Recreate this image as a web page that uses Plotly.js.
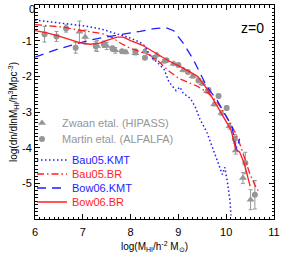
<!DOCTYPE html>
<html><head><meta charset="utf-8">
<script src="https://cdn.plot.ly/plotly-3.0.1.min.js"></script>
<style>html,body{margin:0;padding:0;background:#fff;}#chart{width:287px;height:257px;}</style>
</head><body><div id="chart"></div>
<script>
// Bau05.KMT (blue dotted)
const bau05KmtX = [6.0,6.4,6.8,7.1,7.4,7.7,8.0,8.2,8.3,8.4,8.55,8.7,8.8,8.95,9.03,9.1,9.25,9.35,9.45,9.6,9.7,9.8,9.87,9.92,9.97,10.03,10.08,10.1];
const bau05KmtY = [-0.42,-0.48,-0.54,-0.6,-0.68,-0.8,-0.93,-1.05,-1.15,-1.4,-1.6,-1.8,-2.15,-2.4,-2.3,-2.47,-2.62,-2.85,-3.2,-3.58,-3.95,-4.3,-4.6,-4.75,-4.55,-5.0,-5.5,-5.9];
// Bau05.BR (red dash-dot)
const bau05BrX = [6.0,6.3,6.6,6.9,7.2,7.4,7.6,7.8,8.0,8.2,8.4,8.6,8.8,9.0,9.2,9.4,9.6,9.8,9.95,10.1,10.2,10.3,10.4,10.5,10.6,10.7];
const bau05BrY = [-0.55,-0.58,-0.62,-0.7,-0.75,-0.8,-0.9,-1.08,-1.22,-1.3,-1.4,-1.6,-1.85,-2.05,-2.16,-2.28,-2.45,-2.7,-3.0,-3.35,-3.6,-3.95,-4.35,-4.75,-5.05,-5.28];
// Bow06.KMT (blue dashed)
const bow06KmtX = [6.0,6.2,6.4,6.7,7.0,7.2,7.4,7.65,7.9,8.2,8.5,8.75,8.9,9.1,9.3,9.45,9.6,9.8,10.0,10.12,10.18,10.22,10.28];
const bow06KmtY = [-1.46,-1.36,-1.27,-1.15,-1.03,-0.97,-0.92,-0.87,-0.82,-0.74,-0.66,-0.64,-0.72,-1.07,-1.5,-1.9,-2.3,-2.65,-3.1,-3.4,-3.85,-4.05,-3.75];
// Bow06.BR (red solid)
const bow06BrX = [6.0,6.25,6.5,6.75,6.95,7.15,7.35,7.55,7.72,7.85,8.0,8.25,8.55,8.8,9.1,9.4,9.6,9.77,9.94,10.1,10.2,10.28,10.38,10.5];
const bow06BrY = [-0.72,-0.78,-0.87,-0.97,-1.06,-1.1,-1.07,-0.97,-0.9,-0.9,-1.0,-1.13,-1.38,-1.57,-1.77,-2.0,-2.35,-2.75,-3.12,-3.5,-4.05,-4.12,-4.45,-5.08];
// Zwaan etal. (HIPASS)
const zwaanX = [6.93,7.05,7.3,7.5,7.68,7.9,8.1,8.3,8.55,8.7,8.9,9.1,9.3,9.5,9.6,9.75,9.9,10.07,10.2,10.35,10.51];
const zwaanY = [-0.75,-0.9,-1.15,-1.15,-1.27,-1.32,-1.35,-1.3,-1.4,-1.58,-1.65,-1.82,-2.0,-2.2,-2.42,-2.78,-3.03,-3.4,-4.08,-4.85,-5.46];
const zwaanErr = [0.3,0.2,0.15,0.1,0.08,0.05,0.05,0.05,0.05,0.05,0.05,0.05,0.05,0.05,0.05,0.05,0.06,0.08,0.1,0.15,0.28];
// Martin etal. (ALFALFA)
const martinX = [6.2,6.45,6.65,6.85,7.27,7.44,7.62,7.82,8.1,8.3,8.5,8.75,9.0,9.2,9.42,9.63,9.84,10.01,10.18,10.4,10.6];
const martinY = [-0.82,-0.88,-0.66,-1.2,-1.16,-1.1,-1.22,-1.3,-1.3,-1.48,-1.48,-1.55,-1.68,-1.88,-2.12,-2.38,-2.55,-2.89,-3.75,-4.43,-5.32];
const martinErr = [0.22,0.14,0.1,0.15,0.13,0.09,0.07,0.05,0.04,0.04,0.04,0.04,0.04,0.04,0.04,0.05,0.05,0.06,0.12,0.3,0.4];
// y tick labels (the top "0" label is drawn as text at the axis corner, x = 6, y = 0)
const yTickVals = [-1,-2,-3,-4,-5];
const yTickText = ['-1','-2','-3','-4','-5'];
const yTopX = 6, yTopVal = 0, yTopText = '0';

const names = ['Zwaan etal. (HIPASS)','Martin etal. (ALFALFA)','Bau05.KMT','Bau05.BR','Bow06.KMT','Bow06.BR'];
const GRAY = 'rgb(150,150,150)', BLUE = 'rgb(30,30,255)', RED = 'rgb(255,30,30)';
const col = (c, t) => '<span style="color:' + c + '">' + t + '</span>';
const FONT = 'Liberation Sans, Arial, sans-serif';

const traces = [
  {x: zwaanX, y: zwaanY, type:'scatter', mode:'markers', name: col(GRAY, names[0]), legend:'legend',
   marker:{symbol:'triangle-up', size:7, color:GRAY},
   error_y:{type:'data', array: zwaanErr, color:GRAY, thickness:1, width:2}},
  {x: martinX, y: martinY, type:'scatter', mode:'markers', name: col(GRAY, names[1]), legend:'legend2',
   marker:{symbol:'circle', size:6, color:GRAY},
   error_y:{type:'data', array: martinErr, color:GRAY, thickness:1, width:2}},
  {x: bau05KmtX, y: bau05KmtY, type:'scatter', mode:'lines', name: col(BLUE, names[2]), legend:'legend3',
   line:{color:BLUE, width:1.5, dash:'1.5px,2.5px'}},
  {x: bau05BrX, y: bau05BrY, type:'scatter', mode:'lines', name: col(RED, names[3]), legend:'legend4',
   line:{color:RED, width:1.3, dash:'7px,3px,1.5px,3px'}},
  {x: bow06KmtX, y: bow06KmtY, type:'scatter', mode:'lines', name: col(BLUE, names[4]), legend:'legend5',
   line:{color:BLUE, width:1.3, dash:'9px,6px'}},
  {x: bow06BrX, y: bow06BrY, type:'scatter', mode:'lines', name: col(RED, names[5]), legend:'legend6',
   line:{color:RED, width:1.3}},
  {x:[yTopX], y:[yTopVal], type:'scatter', mode:'text', text:[yTopText], textposition:'bottom left',
   textfont:{family:FONT, size:11, color:'#000'}, cliponaxis:false, showlegend:false, hoverinfo:'skip'}
];

const axisCommon = {
  showgrid:false, zeroline:false, showline:true, linecolor:'#000', linewidth:1, mirror:'ticks',
  ticks:'inside', ticklen:5, tickcolor:'#000', tickwidth:1,
  minor:{ticks:'inside', ticklen:2.5, tickcolor:'#000', dtick:0.1},
  tickfont:{family:FONT, size:11, color:'#000'}
};
// plot area: left 35px, top 5px, width 239px, height 214px
const PT = 5, PH = 214;
const legendAt = (px, py) => ({x:(px-35)/239, y:1-(py-PT)/PH, xanchor:'left', yanchor:'middle',
  bgcolor:'rgba(0,0,0,0)', borderwidth:0, font:{family:FONT, size:11}, itemwidth:30});
const layout = {
  width:287, height:257,
  margin:{l:35, r:13, t:PT, b:38},
  paper_bgcolor:'#fff', plot_bgcolor:'#fff',
  font:{family:FONT, size:11, color:'#000'},
  showlegend:true,
  legend: legendAt(22, 123),
  legend2: legendAt(22, 139),
  legend3: legendAt(32, 160),
  legend4: legendAt(32, 174),
  legend5: legendAt(32, 188),
  legend6: legendAt(32, 202),
  xaxis:Object.assign({}, axisCommon, {range:[6,11], dtick:1, tick0:6, ticklabelstandoff:3,
    title:{text:'log(M<sub>HI</sub>/h<sup>-2</sup> M<sub>⊙</sub>)', font:{family:FONT, size:10}, standoff:5}}),
  yaxis:Object.assign({}, axisCommon, {range:[-6,0], tickmode:'array', tickvals:yTickVals, ticktext:yTickText,
    minor:{ticks:'inside', ticklen:2.5, tickcolor:'#000', tickmode:'linear', tick0:0, dtick:0.1},
    title:{text:'log(dn/dlnM<sub>HI</sub>/h<sup>3</sup>Mpc<sup>-3</sup>)', font:{family:FONT, size:10}, standoff:2}}),
  annotations:[
    {xref:'paper', yref:'paper', x:(266-35)/239, y:1-(18-PT)/PH, xanchor:'right', yanchor:'top',
     text:'z=0', showarrow:false, font:{family:FONT, size:14, color:'#000'}}
  ]
};
Plotly.newPlot('chart', traces, layout, {staticPlot:true, displayModeBar:false});
</script></body></html>
